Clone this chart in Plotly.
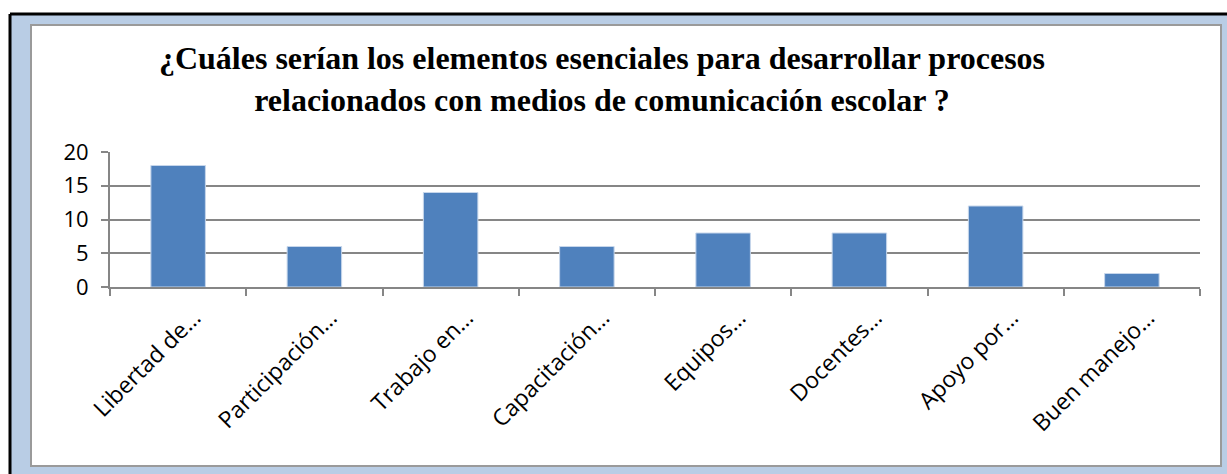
import plotly.graph_objects as go

categorias = [
    "Libertad de…",
    "Participación…",
    "Trabajo en…",
    "Capacitación…",
    "Equipos…",
    "Docentes…",
    "Apoyo por…",
    "Buen manejo…",
]
valores = [18, 6, 14, 6, 8, 8, 12, 2]
y_ticks = [0, 5, 10, 15, 20]

W, H = 1227, 474
L, R, T, B = 110, 27, 152, 187
PW, PH = W - L - R, H - T - B


def px_x(x):
    return (x - L) / PW


def px_y(y):
    return (H - B - y) / PH


fig = go.Figure(
    go.Bar(
        x=categorias,
        y=valores,
        marker=dict(color="#4F81BD", line=dict(color="#C6D6EB", width=1)),
        hoverinfo="x+y",
    )
)

# marco tipo Word: borde negro, banda azul clara, panel blanco
fig.add_shape(type="rect", xref="paper", yref="paper", layer="below",
              x0=px_x(10), x1=px_x(1240), y0=px_y(14), y1=px_y(480),
              fillcolor="#B9CDE5", line=dict(width=0))
fig.add_shape(type="line", xref="paper", yref="paper", layer="below",
              x0=px_x(10), x1=px_x(1240), y0=px_y(14), y1=px_y(14),
              line=dict(color="black", width=3))
fig.add_shape(type="line", xref="paper", yref="paper", layer="below",
              x0=px_x(10), x1=px_x(10), y0=px_y(14), y1=px_y(480),
              line=dict(color="black", width=3))
fig.add_shape(type="rect", xref="paper", yref="paper", layer="below",
              x0=px_x(31), x1=px_x(1221), y0=px_y(25), y1=px_y(466),
              fillcolor="white", line=dict(color="#9A9A9A", width=2))

fig.update_layout(
    width=W,
    height=H,
    margin=dict(l=L, r=R, t=T, b=B),
    paper_bgcolor="white",
    plot_bgcolor="rgba(0,0,0,0)",
    bargap=0.6,
    showlegend=False,
    title=dict(
        text="¿Cuáles serían los elementos esenciales para desarrollar procesos<br>"
             "relacionados con medios de comunicación escolar ?",
        font=dict(family="Liberation Serif", size=32, color="black", weight="bold"),
        xref="container", x=602 / W, xanchor="center",
        yref="container", y=1 - 69 / H, yanchor="top",
    ),
    xaxis=dict(
        tickangle=-45,
        tickson="boundaries",
        ticks="outside",
        ticklen=7,
        tickcolor="#868686",
        tickwidth=2,
        showline=True,
        linecolor="#868686",
        linewidth=2,
        showgrid=False,
        tickfont=dict(family="Open Sans", size=23, color="black"),
        ticklabelshift=16,
        ticklabelstandoff=6,
    ),
    yaxis=dict(
        range=[0, 20],
        tickvals=y_ticks,
        ticks="outside",
        ticklen=7,
        tickcolor="#868686",
        tickwidth=2,
        showline=True,
        linecolor="#868686",
        linewidth=2,
        gridcolor="#868686",
        gridwidth=2,
        zeroline=False,
        tickfont=dict(family="Open Sans", size=22, color="black"),
        ticklabelstandoff=8,
    ),
)

fig.write_html(
    "out.html",
    config={"displayModeBar": False},
    post_script="document.body.style.margin='0';",
)
